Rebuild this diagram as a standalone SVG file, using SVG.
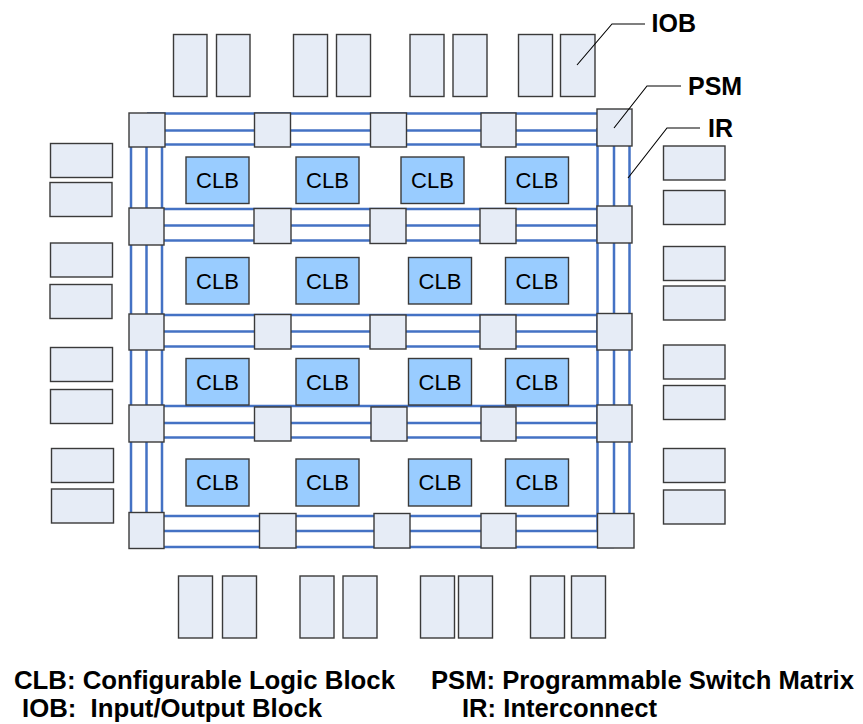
<svg xmlns="http://www.w3.org/2000/svg" width="863" height="724" viewBox="0 0 863 724">
  <style>
    .iob { fill: #E6ECF6; stroke: #3a3a3a; stroke-width: 1.4; }
    .psm { fill: #E6ECF6; stroke: #3a3a3a; stroke-width: 1.4; }
    .clb { fill: #99CCFF; stroke: #3a3a3a; stroke-width: 1.4; }
    .clbt { font-family: "Liberation Sans", Arial, sans-serif; font-size: 22px; fill: #000; text-anchor: middle; }
    .wire { stroke: #4472C4; stroke-width: 2.5; fill: none; }
    .lead { stroke: #000; stroke-width: 1.1; fill: none; }
    .lbl { font-family: "Liberation Sans", Arial, sans-serif; font-size: 25px; font-weight: bold; fill: #000; }
    .leg { font-family: "Liberation Sans", Arial, sans-serif; font-size: 25.5px; font-weight: bold; fill: #000; }
  </style>

  <rect width="863" height="724" fill="#ffffff"/>

  <!-- Interconnect wires (drawn first so the switch matrices sit on top) -->
  <g id="interconnect">
    <!-- horizontal channels -->
    <line class="wire" x1="147" y1="113.5" x2="614" y2="113.5"/>
    <line class="wire" x1="147" y1="130.5" x2="614" y2="130.5"/>
    <line class="wire" x1="147" y1="144.5" x2="614" y2="144.5"/>
    <line class="wire" x1="147" y1="209" x2="614" y2="209"/>
    <line class="wire" x1="147" y1="225.5" x2="614" y2="225.5"/>
    <line class="wire" x1="147" y1="240.5" x2="614" y2="240.5"/>
    <line class="wire" x1="147" y1="315" x2="614" y2="315"/>
    <line class="wire" x1="147" y1="331.5" x2="614" y2="331.5"/>
    <line class="wire" x1="147" y1="346.5" x2="614" y2="346.5"/>
    <line class="wire" x1="147" y1="406" x2="614" y2="406"/>
    <line class="wire" x1="147" y1="423" x2="614" y2="423"/>
    <line class="wire" x1="147" y1="437.5" x2="614" y2="437.5"/>
    <line class="wire" x1="147" y1="516" x2="614" y2="516"/>
    <line class="wire" x1="147" y1="531" x2="614" y2="531"/>
    <line class="wire" x1="147" y1="547" x2="614" y2="547"/>
    <!-- vertical channels -->
    <line class="wire" x1="131" y1="130" x2="131" y2="530"/>
    <line class="wire" x1="146.5" y1="130" x2="146.5" y2="530"/>
    <line class="wire" x1="162" y1="130" x2="162" y2="530"/>
    <line class="wire" x1="597.5" y1="128" x2="597.5" y2="530"/>
    <line class="wire" x1="614" y1="128" x2="614" y2="530"/>
    <line class="wire" x1="629.5" y1="128" x2="629.5" y2="530"/>
  </g>

  <!-- Programmable switch matrices -->
  <g id="psm-r1c1"><rect class="psm" x="129" y="113" width="36" height="34"/></g>
  <g id="psm-r1c2"><rect class="psm" x="254.5" y="113" width="36" height="34"/></g>
  <g id="psm-r1c3"><rect class="psm" x="370.5" y="113" width="36" height="34"/></g>
  <g id="psm-r1c4"><rect class="psm" x="481" y="113" width="35" height="34"/></g>
  <g id="psm-r1c5"><rect class="psm" x="597" y="109" width="35" height="37"/></g>

  <g id="psm-r2c1"><rect class="psm" x="129" y="208" width="35" height="37"/></g>
  <g id="psm-r2c2"><rect class="psm" x="254" y="208.5" width="37" height="35"/></g>
  <g id="psm-r2c3"><rect class="psm" x="370" y="208.5" width="36" height="35"/></g>
  <g id="psm-r2c4"><rect class="psm" x="480" y="208.5" width="36" height="35"/></g>
  <g id="psm-r2c5"><rect class="psm" x="597" y="206" width="35" height="37"/></g>

  <g id="psm-r3c1"><rect class="psm" x="129" y="314" width="35" height="36"/></g>
  <g id="psm-r3c2"><rect class="psm" x="254.5" y="314.5" width="36.5" height="34.5"/></g>
  <g id="psm-r3c3"><rect class="psm" x="370" y="315" width="36" height="34"/></g>
  <g id="psm-r3c4"><rect class="psm" x="480" y="315" width="36" height="34"/></g>
  <g id="psm-r3c5"><rect class="psm" x="597" y="313.5" width="35" height="36.5"/></g>

  <g id="psm-r4c1"><rect class="psm" x="129" y="405" width="35" height="37"/></g>
  <g id="psm-r4c2"><rect class="psm" x="254.5" y="407" width="36.5" height="34"/></g>
  <g id="psm-r4c3"><rect class="psm" x="371" y="407" width="36" height="34"/></g>
  <g id="psm-r4c4"><rect class="psm" x="481" y="407" width="35" height="34"/></g>
  <g id="psm-r4c5"><rect class="psm" x="597" y="405" width="35" height="37"/></g>

  <g id="psm-r5c1"><rect class="psm" x="129" y="512.5" width="35" height="36"/></g>
  <g id="psm-r5c2"><rect class="psm" x="259.5" y="513.5" width="36.5" height="34.5"/></g>
  <g id="psm-r5c3"><rect class="psm" x="374" y="513.5" width="36" height="34.5"/></g>
  <g id="psm-r5c4"><rect class="psm" x="481" y="513.5" width="35" height="34.5"/></g>
  <g id="psm-r5c5"><rect class="psm" x="597.5" y="513.5" width="36.5" height="34.5"/></g>

  <!-- Configurable logic blocks -->
  <g id="clb-r1c1"><rect class="clb" x="186" y="157" width="63" height="46.5"/><text class="clbt" x="217.5" y="188">CLB</text></g>
  <g id="clb-r1c2"><rect class="clb" x="296" y="157" width="63" height="46.5"/><text class="clbt" x="327.5" y="188">CLB</text></g>
  <g id="clb-r1c3"><rect class="clb" x="401" y="157" width="63" height="46.5"/><text class="clbt" x="432.5" y="188">CLB</text></g>
  <g id="clb-r1c4"><rect class="clb" x="505.5" y="157" width="63" height="46.5"/><text class="clbt" x="537" y="188">CLB</text></g>

  <g id="clb-r2c1"><rect class="clb" x="186" y="257.5" width="63" height="46.5"/><text class="clbt" x="217.5" y="288.5">CLB</text></g>
  <g id="clb-r2c2"><rect class="clb" x="296" y="257.5" width="63" height="46.5"/><text class="clbt" x="327.5" y="288.5">CLB</text></g>
  <g id="clb-r2c3"><rect class="clb" x="408.5" y="257.5" width="63" height="46.5"/><text class="clbt" x="440" y="288.5">CLB</text></g>
  <g id="clb-r2c4"><rect class="clb" x="505.5" y="257.5" width="63" height="46.5"/><text class="clbt" x="537" y="288.5">CLB</text></g>

  <g id="clb-r3c1"><rect class="clb" x="186" y="358.5" width="63" height="46.5"/><text class="clbt" x="217.5" y="389.5">CLB</text></g>
  <g id="clb-r3c2"><rect class="clb" x="296" y="358.5" width="63" height="46.5"/><text class="clbt" x="327.5" y="389.5">CLB</text></g>
  <g id="clb-r3c3"><rect class="clb" x="408.5" y="358.5" width="63" height="46.5"/><text class="clbt" x="440" y="389.5">CLB</text></g>
  <g id="clb-r3c4"><rect class="clb" x="505.5" y="358.5" width="63" height="46.5"/><text class="clbt" x="537" y="389.5">CLB</text></g>

  <g id="clb-r4c1"><rect class="clb" x="186" y="459" width="63" height="47"/><text class="clbt" x="217.5" y="490">CLB</text></g>
  <g id="clb-r4c2"><rect class="clb" x="296" y="459" width="63" height="47"/><text class="clbt" x="327.5" y="490">CLB</text></g>
  <g id="clb-r4c3"><rect class="clb" x="408.5" y="459" width="63" height="47"/><text class="clbt" x="440" y="490">CLB</text></g>
  <g id="clb-r4c4"><rect class="clb" x="505.5" y="459" width="63" height="47"/><text class="clbt" x="537" y="490">CLB</text></g>

  <!-- Input/output blocks: top edge -->
  <g id="iob-t1"><rect class="iob" x="173.5" y="34.5" width="33.5" height="62"/></g>
  <g id="iob-t2"><rect class="iob" x="216.5" y="34.5" width="33.5" height="62"/></g>
  <g id="iob-t3"><rect class="iob" x="293.5" y="34.5" width="34" height="62"/></g>
  <g id="iob-t4"><rect class="iob" x="336.5" y="34.5" width="34" height="62"/></g>
  <g id="iob-t5"><rect class="iob" x="410" y="34.5" width="34" height="62"/></g>
  <g id="iob-t6"><rect class="iob" x="453" y="34.5" width="34" height="62"/></g>
  <g id="iob-t7"><rect class="iob" x="518.5" y="34.5" width="34" height="62"/></g>
  <g id="iob-t8"><rect class="iob" x="560.5" y="34.5" width="34.5" height="62"/></g>

  <!-- Input/output blocks: bottom edge -->
  <g id="iob-b1"><rect class="iob" x="178.5" y="576" width="34" height="62"/></g>
  <g id="iob-b2"><rect class="iob" x="222.5" y="576" width="34" height="62"/></g>
  <g id="iob-b3"><rect class="iob" x="300" y="576" width="34" height="62"/></g>
  <g id="iob-b4"><rect class="iob" x="343" y="576" width="34" height="62"/></g>
  <g id="iob-b5"><rect class="iob" x="420.5" y="576" width="34" height="62"/></g>
  <g id="iob-b6"><rect class="iob" x="458.5" y="576" width="34" height="62"/></g>
  <g id="iob-b7"><rect class="iob" x="530.5" y="576" width="34" height="62"/></g>
  <g id="iob-b8"><rect class="iob" x="571.5" y="576" width="34" height="62"/></g>

  <!-- Input/output blocks: left edge -->
  <g id="iob-l1"><rect class="iob" x="50.5" y="143.5" width="62" height="34"/></g>
  <g id="iob-l2"><rect class="iob" x="50" y="182.5" width="62" height="34"/></g>
  <g id="iob-l3"><rect class="iob" x="50.5" y="243" width="62" height="34"/></g>
  <g id="iob-l4"><rect class="iob" x="50" y="284.5" width="62" height="34"/></g>
  <g id="iob-l5"><rect class="iob" x="50.5" y="347.5" width="62" height="34"/></g>
  <g id="iob-l6"><rect class="iob" x="50.5" y="389.5" width="62" height="34"/></g>
  <g id="iob-l7"><rect class="iob" x="51.5" y="448.5" width="62" height="34"/></g>
  <g id="iob-l8"><rect class="iob" x="51.5" y="489" width="62" height="34"/></g>

  <!-- Input/output blocks: right edge -->
  <g id="iob-r1"><rect class="iob" x="663.5" y="146" width="61.5" height="34"/></g>
  <g id="iob-r2"><rect class="iob" x="663.5" y="190.5" width="61.5" height="34"/></g>
  <g id="iob-r3"><rect class="iob" x="663.5" y="246.5" width="61.5" height="34"/></g>
  <g id="iob-r4"><rect class="iob" x="663.5" y="286" width="61.5" height="34"/></g>
  <g id="iob-r5"><rect class="iob" x="663.5" y="345" width="61.5" height="34"/></g>
  <g id="iob-r6"><rect class="iob" x="663.5" y="385.5" width="61.5" height="34"/></g>
  <g id="iob-r7"><rect class="iob" x="663.5" y="448.5" width="61.5" height="34"/></g>
  <g id="iob-r8"><rect class="iob" x="663.5" y="490" width="61.5" height="34"/></g>

  <!-- Callout leaders and their labels -->
  <g id="callouts">
    <polyline class="lead" points="577,65 612,24 645,24"/>
    <polyline class="lead" points="614,128 647,86 681,86"/>
    <polyline class="lead" points="628,178 667,128 700,128"/>
    <text class="lbl" x="651.5" y="32">IOB</text>
    <text class="lbl" x="688" y="94.5">PSM</text>
    <text class="lbl" x="708" y="137">IR</text>
  </g>

  <!-- Legend -->
  <g id="legend">
    <text class="leg" x="14" y="689" textLength="381" lengthAdjust="spacingAndGlyphs">CLB: Configurable Logic Block</text>
    <text class="leg" x="22" y="717" textLength="300" lengthAdjust="spacingAndGlyphs" xml:space="preserve">IOB:  Input/Output Block</text>
    <text class="leg" x="431" y="689" textLength="423" lengthAdjust="spacingAndGlyphs">PSM: Programmable Switch Matrix</text>
    <text class="leg" x="462" y="717" textLength="195" lengthAdjust="spacingAndGlyphs">IR: Interconnect</text>
  </g>
</svg>
